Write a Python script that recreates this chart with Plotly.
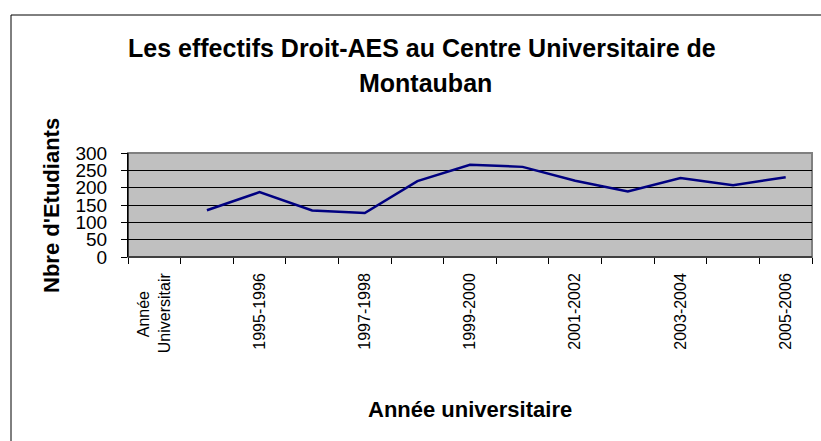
import plotly.graph_objects as go

categories = ["Année Universitair", "1994-1995", "1995-1996", "1996-1997", "1997-1998",
              "1998-1999", "1999-2000", "2000-2001", "2001-2002", "2002-2003",
              "2003-2004", "2004-2005", "2005-2006"]
effectifs = [None, 135, 187, 134, 127, 219, 266, 260, 220, 189, 228, 207, 230]
y_ticks = [0, 50, 100, 150, 200, 250, 300]

W, H = 821, 441
L, R, T, B = 128, 9, 153, 184
pw = W - L - R
ph = H - T - B

def px(x):
    return (x - L) / pw

def py(y):
    return (H - B - y) / ph

idx = list(range(len(categories)))
FONT = "Liberation Sans, Arial, sans-serif"

# display labels: wrap first label on two centred lines
def wrap(label):
    if " " in label and not label[0].isdigit():
        a, b = label.split(" ", 1)
        pad = "&nbsp;" * 4
        return a + pad + "<br>" + b
    return label

tick_text = [wrap(c) for c in categories[::2]]

fig = go.Figure()
fig.add_trace(go.Scatter(x=idx, y=effectifs, mode="lines",
                         line=dict(color="#000080", width=2.5), showlegend=False))

fig.update_layout(
    width=W, height=H,
    margin=dict(l=L, r=R, t=T, b=B),
    paper_bgcolor="white",
    plot_bgcolor="#C0C0C0",
    font=dict(family=FONT, color="black"),
    xaxis=dict(range=[-0.5, len(categories) - 0.5], tickmode="array",
               tickvals=idx[::2], ticktext=tick_text, tickangle=-90,
               tickfont=dict(size=16), ticks="", showgrid=False, zeroline=False,
               showline=False, ticklabelstandoff=12,
               minor=dict(tickmode="array", tickvals=[i - 0.5 for i in idx] + [len(idx) - 0.5],
                          ticks="outside", ticklen=6, tickcolor="black", showgrid=False)),
    yaxis=dict(range=[0, 300], tickvals=y_ticks, tickfont=dict(size=19),
               ticks="outside", ticklen=6, tickcolor="black", ticklabelstandoff=10,
               showgrid=True, gridcolor="black", gridwidth=1, zeroline=False,
               showline=True, linecolor="black", linewidth=1),
)

fig.add_shape(type="rect", xref="paper", yref="paper", x0=0, x1=1, y0=0, y1=1,
              line=dict(color="#808080", width=2), layer="between")
fig.add_shape(type="line", xref="paper", yref="paper", x0=0, x1=0, y0=0, y1=1,
              line=dict(color="black", width=1), layer="above")
fig.add_shape(type="line", xref="paper", yref="paper", x0=0, x1=1, y0=0, y1=0,
              line=dict(color="#404040", width=2), layer="above")
# outer chart border
fig.add_shape(type="rect", xref="paper", yref="paper",
              x0=px(11), x1=px(835), y0=py(460), y1=py(15),
              line=dict(color="black", width=1), layer="above")

fig.add_annotation(text="<b>Les effectifs Droit-AES au Centre Universitaire de</b>",
                   xref="paper", yref="paper", x=px(422), y=py(48), showarrow=False,
                   xanchor="center", yanchor="middle", font=dict(size=25))
fig.add_annotation(text="<b>Montauban</b>",
                   xref="paper", yref="paper", x=px(425), y=py(83), showarrow=False,
                   xanchor="center", yanchor="middle", font=dict(size=25))
fig.add_annotation(text="<b>Nbre d'Etudiants</b>", textangle=-90,
                   xref="paper", yref="paper", x=px(51), y=py(206), showarrow=False,
                   xanchor="center", yanchor="middle", font=dict(size=22))
fig.add_annotation(text="<b>Année universitaire</b>",
                   xref="paper", yref="paper", x=px(470), y=py(409), showarrow=False,
                   xanchor="center", yanchor="middle", font=dict(size=22))

fig.write_html("out.html", config={"displayModeBar": False},
               post_script="document.body.style.margin='0';document.body.style.overflow='hidden';")
